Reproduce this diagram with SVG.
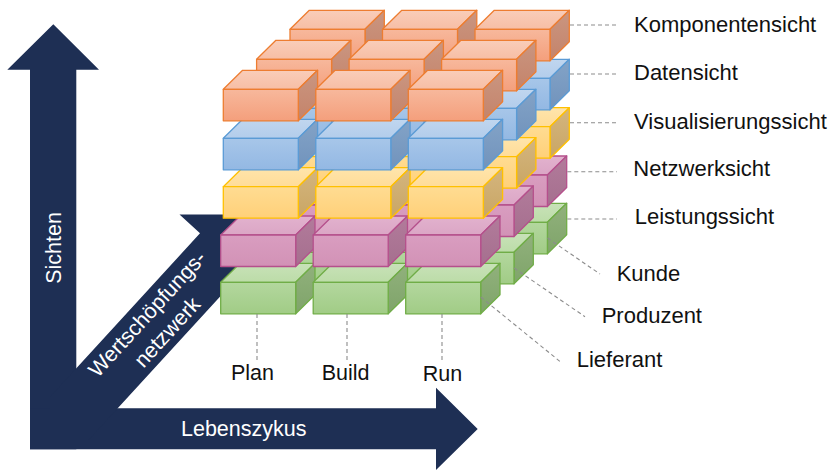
<svg xmlns="http://www.w3.org/2000/svg" xmlns:xlink="http://www.w3.org/1999/xlink" width="831" height="471" viewBox="0 0 831 471">
<style>
.arrow{fill:#1e2f54}
.lbl{font-family:"Liberation Sans",Arial,sans-serif;font-size:21.5px;fill:#111}
.rl{font-size:22px}
.wl{font-family:"Liberation Sans",Arial,sans-serif;font-size:21.5px;fill:#fff}
.lead{stroke:#8c8c8c;stroke-width:1.1;stroke-dasharray:4 3;fill:none}
.f{stroke-width:1.3;stroke-linejoin:round}
</style>
<defs>
<linearGradient id="or-f" x1="0" y1="0" x2="0" y2="1"><stop offset="0" stop-color="#f7b89c"/><stop offset="1" stop-color="#f49f7c"/></linearGradient>
<linearGradient id="or-t" x1="0" y1="0" x2="0" y2="1"><stop offset="0" stop-color="#f9cdb9"/><stop offset="1" stop-color="#f7bea5"/></linearGradient>
<linearGradient id="or-r" x1="0" y1="0" x2="0" y2="1"><stop offset="0" stop-color="#ca9681"/><stop offset="1" stop-color="#c4836a"/></linearGradient>
<linearGradient id="bl-f" x1="0" y1="0" x2="0" y2="1"><stop offset="0" stop-color="#a7c6e9"/><stop offset="1" stop-color="#93b8e3"/></linearGradient>
<linearGradient id="bl-t" x1="0" y1="0" x2="0" y2="1"><stop offset="0" stop-color="#c0d6ef"/><stop offset="1" stop-color="#b3cdeb"/></linearGradient>
<linearGradient id="bl-r" x1="0" y1="0" x2="0" y2="1"><stop offset="0" stop-color="#83a3c7"/><stop offset="1" stop-color="#7193bc"/></linearGradient>
<linearGradient id="ye-f" x1="0" y1="0" x2="0" y2="1"><stop offset="0" stop-color="#ffdc92"/><stop offset="1" stop-color="#ffd079"/></linearGradient>
<linearGradient id="ye-t" x1="0" y1="0" x2="0" y2="1"><stop offset="0" stop-color="#ffe5ab"/><stop offset="1" stop-color="#ffdc98"/></linearGradient>
<linearGradient id="ye-r" x1="0" y1="0" x2="0" y2="1"><stop offset="0" stop-color="#d4b57e"/><stop offset="1" stop-color="#c9a664"/></linearGradient>
<linearGradient id="pk-f" x1="0" y1="0" x2="0" y2="1"><stop offset="0" stop-color="#d99dc0"/><stop offset="1" stop-color="#d292b6"/></linearGradient>
<linearGradient id="pk-t" x1="0" y1="0" x2="0" y2="1"><stop offset="0" stop-color="#e2b2ce"/><stop offset="1" stop-color="#dba6c5"/></linearGradient>
<linearGradient id="pk-r" x1="0" y1="0" x2="0" y2="1"><stop offset="0" stop-color="#b27b9b"/><stop offset="1" stop-color="#a56f8e"/></linearGradient>
<linearGradient id="gr-f" x1="0" y1="0" x2="0" y2="1"><stop offset="0" stop-color="#b3d79e"/><stop offset="1" stop-color="#a1cc86"/></linearGradient>
<linearGradient id="gr-t" x1="0" y1="0" x2="0" y2="1"><stop offset="0" stop-color="#c8e2b8"/><stop offset="1" stop-color="#bcdca8"/></linearGradient>
<linearGradient id="gr-r" x1="0" y1="0" x2="0" y2="1"><stop offset="0" stop-color="#91b17c"/><stop offset="1" stop-color="#7fa46a"/></linearGradient>
<g id="box-or" class="f" stroke="#ed7d31"><polygon points="0,0 19.3,-19 94.3,-19 75,0" fill="url(#or-t)"/><polygon points="75,0 94.3,-19 94.3,12.5 75,31.5" fill="url(#or-r)"/><rect x="0" y="0" width="75" height="31.5" fill="url(#or-f)"/></g>
<g id="box-bl" class="f" stroke="#5b9bd5"><polygon points="0,0 19.3,-19 94.3,-19 75,0" fill="url(#bl-t)"/><polygon points="75,0 94.3,-19 94.3,12.5 75,31.5" fill="url(#bl-r)"/><rect x="0" y="0" width="75" height="31.5" fill="url(#bl-f)"/></g>
<g id="box-ye" class="f" stroke="#ffc000"><polygon points="0,0 19.3,-19 94.3,-19 75,0" fill="url(#ye-t)"/><polygon points="75,0 94.3,-19 94.3,12.5 75,31.5" fill="url(#ye-r)"/><rect x="0" y="0" width="75" height="31.5" fill="url(#ye-f)"/></g>
<g id="box-pk" class="f" stroke="#b5508c"><polygon points="0,0 19.3,-19 94.3,-19 75,0" fill="url(#pk-t)"/><polygon points="75,0 94.3,-19 94.3,12.5 75,31.5" fill="url(#pk-r)"/><rect x="0" y="0" width="75" height="31.5" fill="url(#pk-f)"/></g>
<g id="box-gr" class="f" stroke="#70ad47"><polygon points="0,0 19.3,-19 94.3,-19 75,0" fill="url(#gr-t)"/><polygon points="75,0 94.3,-19 94.3,12.5 75,31.5" fill="url(#gr-r)"/><rect x="0" y="0" width="75" height="31.5" fill="url(#gr-f)"/></g>
</defs>
<rect width="831" height="471" fill="#fff"/>

<g id="axes">
<polygon class="arrow" points="30,449.3 30,69.7 7.3,69.7 53.3,24.3 99,69.7 76.3,69.7 76.3,449.3"/>
<polygon class="arrow" points="30,408.3 436,408.3 436,387.7 477.7,429 436,470 436,449.3 30,449.3"/>
<polygon class="arrow" points="200,233.3 179.5,214.5 256.4,214.5 262.9,291.1 242.4,272.3 88.6,440 50,440 50,396.9"/>
<text class="wl" transform="translate(60.5,248) rotate(-90)" text-anchor="middle">Sichten</text>
<text class="wl" x="181" y="436">Lebenszykus</text>
<g transform="translate(157,322.8) rotate(-47.5)">
<text class="wl" x="0" y="-6" text-anchor="middle">Wertschöpfungs-</text>
<text class="wl" x="0" y="21" text-anchor="middle">netzwerk</text>
</g>
</g>

<g id="layer-leistung">
<use id="gr-r2c0" xlink:href="#box-gr" x="287.4" y="222.3"/><use id="gr-r2c1" xlink:href="#box-gr" x="379.9" y="222.3"/><use id="gr-r2c2" xlink:href="#box-gr" x="472.4" y="222.3"/>
<use id="gr-r1c0" xlink:href="#box-gr" x="254" y="252.3"/><use id="gr-r1c1" xlink:href="#box-gr" x="346.5" y="252.3"/><use id="gr-r1c2" xlink:href="#box-gr" x="439" y="252.3"/>
<use id="gr-r0c0" xlink:href="#box-gr" x="220.7" y="282.3"/><use id="gr-r0c1" xlink:href="#box-gr" x="313.2" y="282.3"/><use id="gr-r0c2" xlink:href="#box-gr" x="405.7" y="282.3"/>
</g>
<g id="layer-netzwerk">
<use id="pk-r2c0" xlink:href="#box-pk" x="287.4" y="175"/><use id="pk-r2c1" xlink:href="#box-pk" x="379.9" y="175"/><use id="pk-r2c2" xlink:href="#box-pk" x="472.4" y="175"/>
<use id="pk-r1c0" xlink:href="#box-pk" x="254" y="205"/><use id="pk-r1c1" xlink:href="#box-pk" x="346.5" y="205"/><use id="pk-r1c2" xlink:href="#box-pk" x="439" y="205"/>
<use id="pk-r0c0" xlink:href="#box-pk" x="220.7" y="235"/><use id="pk-r0c1" xlink:href="#box-pk" x="313.2" y="235"/><use id="pk-r0c2" xlink:href="#box-pk" x="405.7" y="235"/>
</g>
<g id="layer-visualisierung">
<use id="ye-r2c0" xlink:href="#box-ye" x="290" y="126.7"/><use id="ye-r2c1" xlink:href="#box-ye" x="382.5" y="126.7"/><use id="ye-r2c2" xlink:href="#box-ye" x="475" y="126.7"/>
<use id="ye-r1c0" xlink:href="#box-ye" x="256.6" y="156.7"/><use id="ye-r1c1" xlink:href="#box-ye" x="349.1" y="156.7"/><use id="ye-r1c2" xlink:href="#box-ye" x="441.6" y="156.7"/>
<use id="ye-r0c0" xlink:href="#box-ye" x="223.3" y="186.7"/><use id="ye-r0c1" xlink:href="#box-ye" x="315.8" y="186.7"/><use id="ye-r0c2" xlink:href="#box-ye" x="408.3" y="186.7"/>
</g>
<g id="layer-daten">
<use id="bl-r2c0" xlink:href="#box-bl" x="290" y="78.3"/><use id="bl-r2c1" xlink:href="#box-bl" x="382.5" y="78.3"/><use id="bl-r2c2" xlink:href="#box-bl" x="475" y="78.3"/>
<use id="bl-r1c0" xlink:href="#box-bl" x="256.6" y="108.3"/><use id="bl-r1c1" xlink:href="#box-bl" x="349.1" y="108.3"/><use id="bl-r1c2" xlink:href="#box-bl" x="441.6" y="108.3"/>
<use id="bl-r0c0" xlink:href="#box-bl" x="223.3" y="138.3"/><use id="bl-r0c1" xlink:href="#box-bl" x="315.8" y="138.3"/><use id="bl-r0c2" xlink:href="#box-bl" x="408.3" y="138.3"/>
</g>
<g id="layer-komponenten">
<use id="or-r2c0" xlink:href="#box-or" x="290" y="29.3"/><use id="or-r2c1" xlink:href="#box-or" x="382.5" y="29.3"/><use id="or-r2c2" xlink:href="#box-or" x="475" y="29.3"/>
<use id="or-r1c0" xlink:href="#box-or" x="256.6" y="59.3"/><use id="or-r1c1" xlink:href="#box-or" x="349.1" y="59.3"/><use id="or-r1c2" xlink:href="#box-or" x="441.6" y="59.3"/>
<use id="or-r0c0" xlink:href="#box-or" x="223.3" y="89.3"/><use id="or-r0c1" xlink:href="#box-or" x="315.8" y="89.3"/><use id="or-r0c2" xlink:href="#box-or" x="408.3" y="89.3"/>
</g>

<g id="connectors">
<line class="lead" x1="570" y1="25" x2="617" y2="25"/>
<line class="lead" x1="570" y1="74" x2="617" y2="74"/>
<line class="lead" x1="570" y1="122.7" x2="617" y2="122.7"/>
<line class="lead" x1="567.3" y1="171.7" x2="617" y2="171.7"/>
<line class="lead" x1="567.3" y1="219" x2="617" y2="219"/>
<line class="lead" x1="547.4" y1="238" x2="600" y2="274"/>
<line class="lead" x1="514" y1="268" x2="585" y2="316.7"/>
<line class="lead" x1="480.7" y1="297" x2="560" y2="361.5"/>
<line class="lead" x1="257" y1="314" x2="257" y2="360"/>
<line class="lead" x1="347" y1="314" x2="347" y2="360"/>
<line class="lead" x1="442" y1="314" x2="442" y2="360"/>
</g>

<g id="labels">
<text class="lbl rl" x="634" y="32.3">Komponentensicht</text>
<text class="lbl rl" x="634" y="80">Datensicht</text>
<text class="lbl rl" x="634" y="128.5">Visualisierungssicht</text>
<text class="lbl rl" x="633.3" y="176">Netzwerksicht</text>
<text class="lbl rl" x="634.7" y="224">Leistungssicht</text>
<text class="lbl rl" x="616.7" y="281">Kunde</text>
<text class="lbl rl" x="601.7" y="322.7">Produzent</text>
<text class="lbl rl" x="576.7" y="367.3">Lieferant</text>
<text class="lbl" x="231" y="380">Plan</text>
<text class="lbl" x="321.7" y="380">Build</text>
<text class="lbl" x="422.7" y="381">Run</text>
</g>
</svg>
